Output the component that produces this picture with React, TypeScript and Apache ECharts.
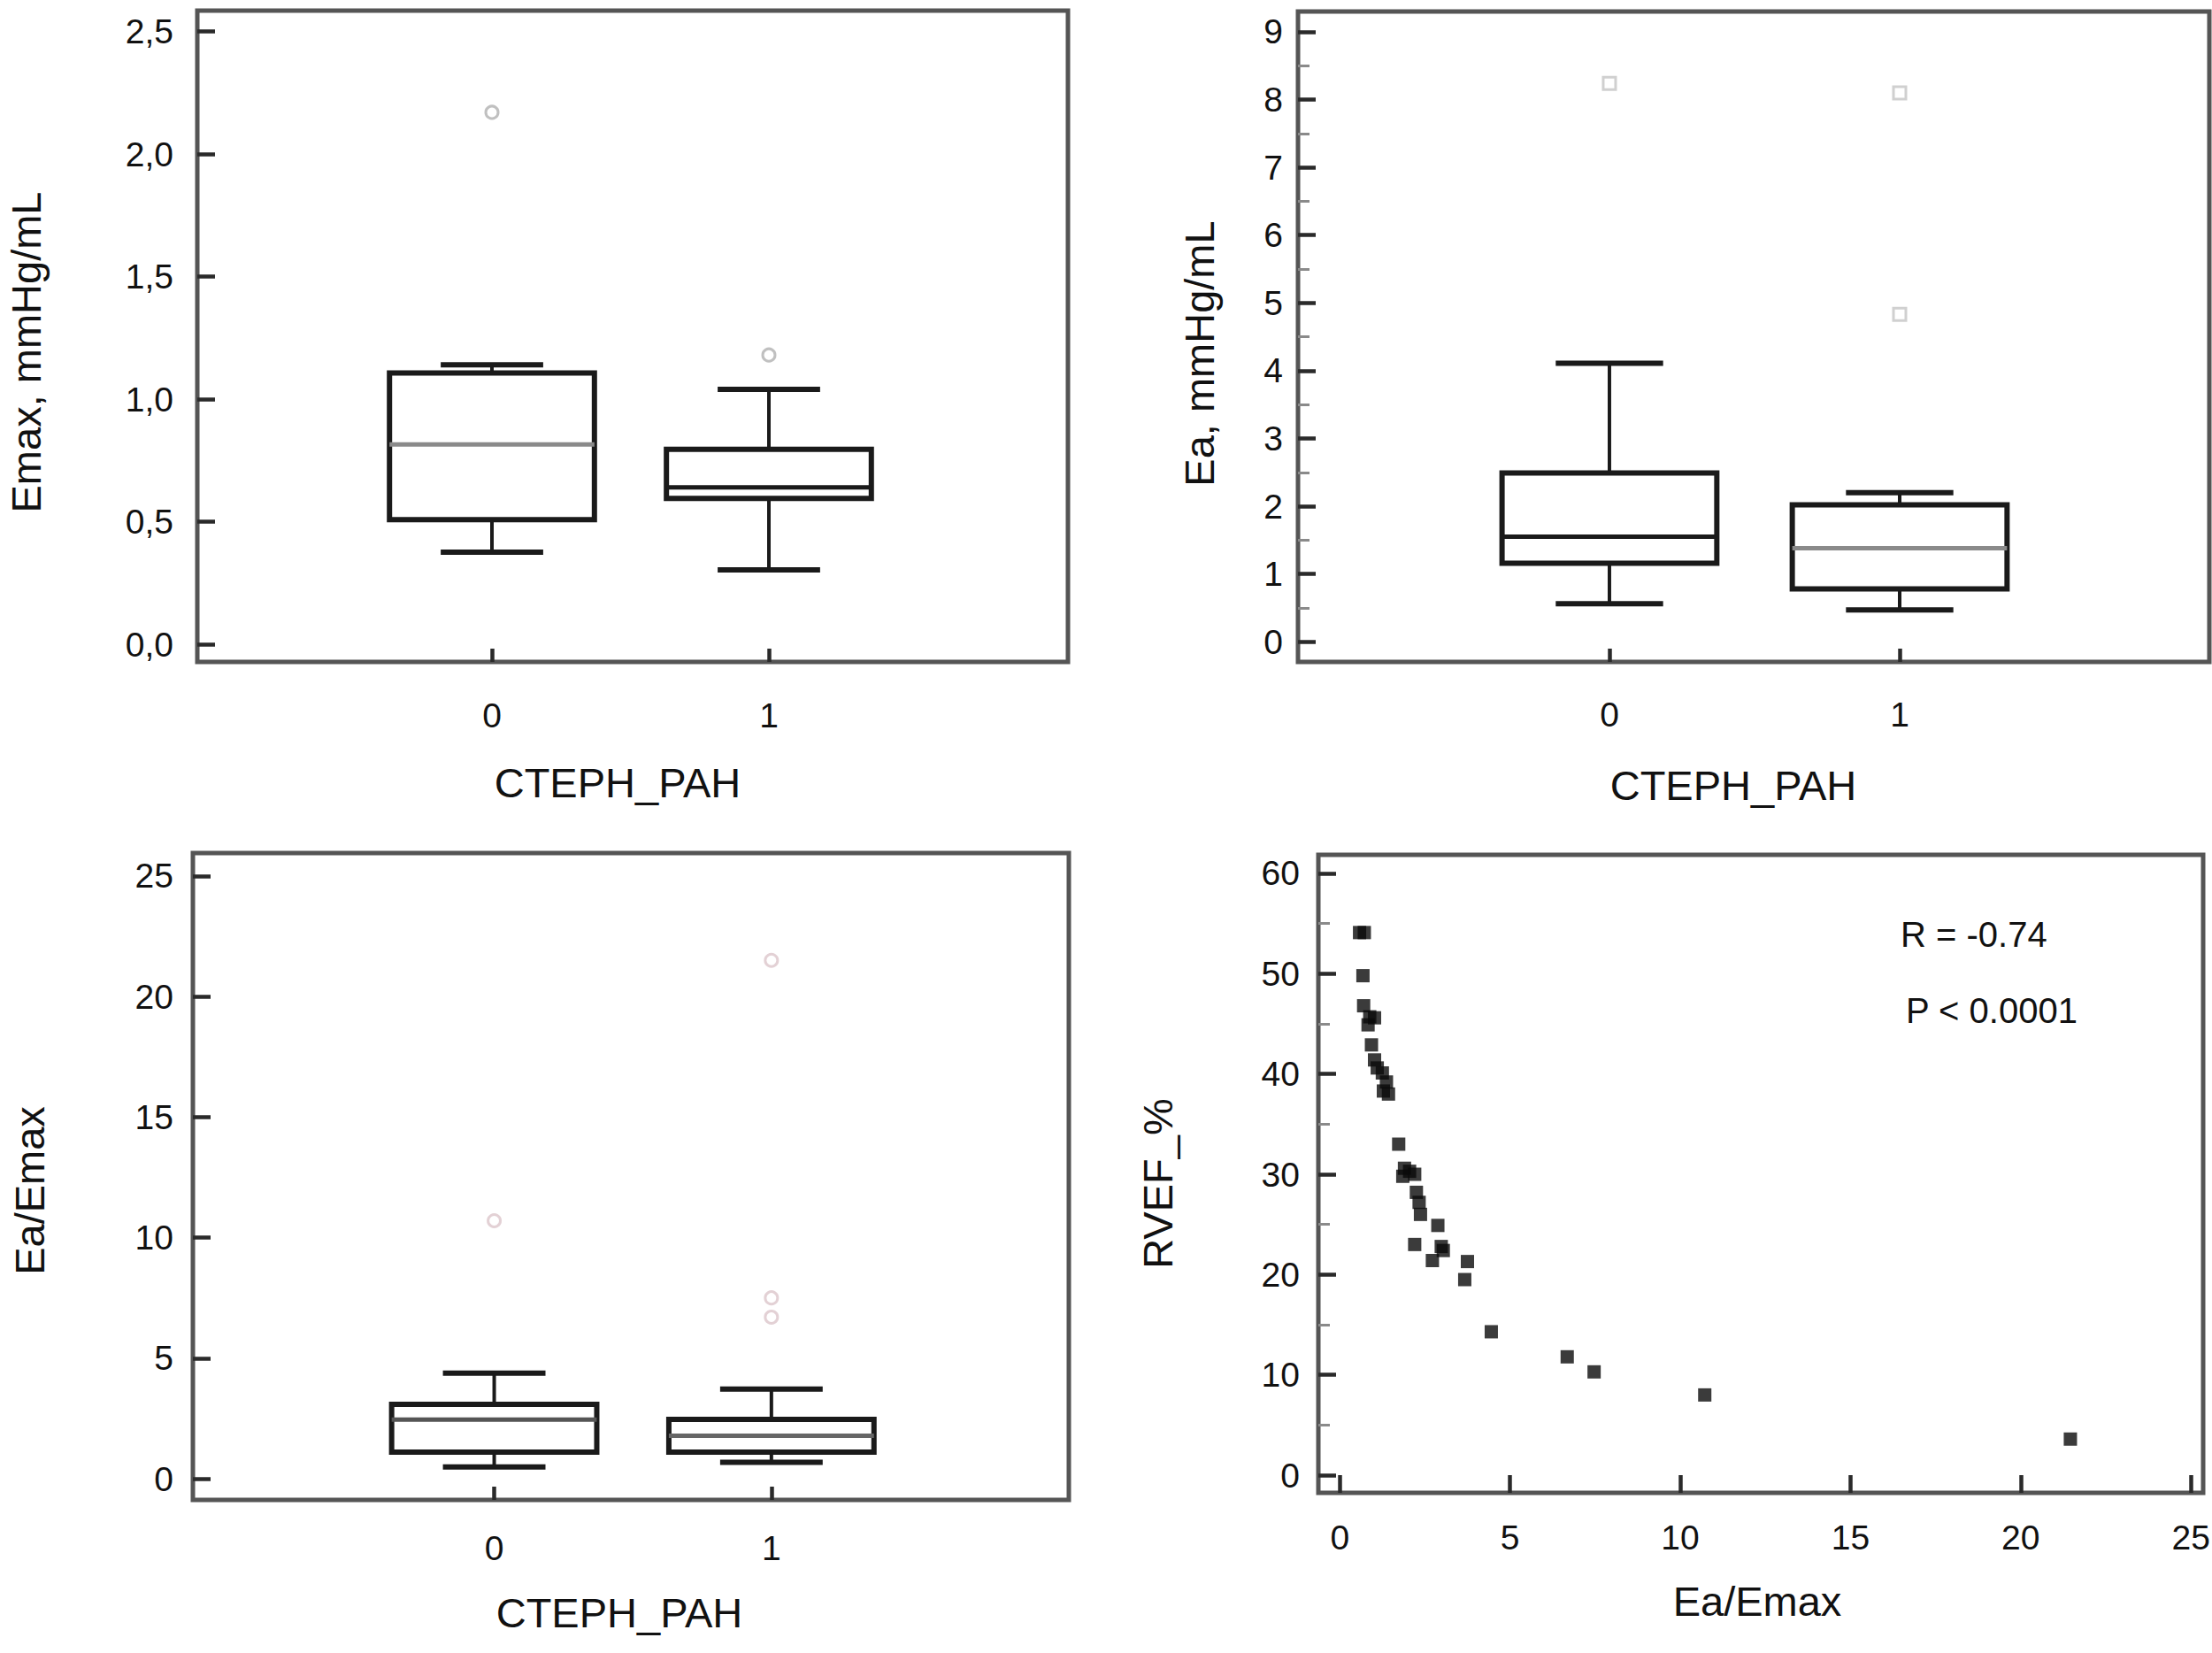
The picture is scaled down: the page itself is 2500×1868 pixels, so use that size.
import React, { useEffect, useRef } from "react";
import * as echarts from "echarts";

// ---------- data ----------
const groups = [0, 1];
const groupName = "CTEPH_PAH";

// [lowWhisker, q1, median, q3, highWhisker]
const emaxBoxes = [
  [0.376, 0.508, 0.815, 1.107, 1.14],
  [0.303, 0.595, 0.64, 0.795, 1.04],
];
const emaxOutliers = [
  [0, 2.17],
  [1, 1.18],
];
const emaxTicks = [0, 0.5, 1.0, 1.5, 2.0, 2.5];

const eaBoxes = [
  [0.56, 1.16, 1.55, 2.49, 4.11],
  [0.47, 0.78, 1.38, 2.02, 2.2],
];
const eaOutliers = [
  [0, 8.24],
  [1, 8.1],
  [1, 4.83],
];
const eaTicks = [0, 1, 2, 3, 4, 5, 6, 7, 8, 9];
const eaMinorTicks = [0.5, 1.5, 2.5, 3.5, 4.5, 5.5, 6.5, 7.5, 8.5];

const ratioBoxes = [
  [0.49, 1.1, 2.45, 3.08, 4.38],
  [0.68, 1.1, 1.78, 2.46, 3.72],
];
const ratioOutliers = [
  [0, 10.7],
  [1, 21.5],
  [1, 7.5],
  [1, 6.7],
];
const ratioTicks = [0, 5, 10, 15, 20, 25];

// scatter: [Ea/Emax, RVEF_%]
const rvefPoints = [
  [0.58, 54.1], [0.72, 54.1], [0.68, 49.8], [0.7, 46.8], [0.88, 45.7],
  [1.02, 45.6], [0.83, 44.9], [0.93, 42.9], [1.02, 41.4], [1.1, 40.6],
  [1.25, 40.1], [1.37, 39.2], [1.28, 38.3], [1.43, 38.0], [1.73, 33.0],
  [1.9, 30.6], [2.05, 30.3], [2.2, 30.0], [1.85, 29.8], [2.25, 28.2],
  [2.33, 27.2], [2.37, 26.0], [2.88, 24.9], [2.2, 23.0], [2.98, 22.8],
  [3.04, 22.4], [2.72, 21.4], [3.75, 21.3], [3.67, 19.5], [4.45, 14.3],
  [6.68, 11.8], [7.47, 10.3], [10.72, 8.0], [21.46, 3.6],
];
const scatterXTicks = [0, 5, 10, 15, 20, 25];
const scatterYTicks = [0, 10, 20, 30, 40, 50, 60];
const scatterYMinor = [5, 15, 25, 35, 45, 55];
const statR = "R = -0.74";
const statP = "P < 0.0001";

// ---------- styling ----------
const FONT = "'Liberation Sans', Arial, Helvetica, sans-serif";
const TEXT = "#111";
const FRAME = "#555";
const INK = "#1a1a1a";
const BOX_HALF = 0.37;
const CAP_HALF = 0.185;

function boxData(boxes: number[][]) {
  return groups.map((g, i) => [g, ...boxes[i]]);
}

function boxSeries(idx: number, boxes: number[][], medianColors: string[]) {
  return {
    type: "custom",
    xAxisIndex: idx,
    yAxisIndex: idx,
    data: boxData(boxes),
    encode: { x: 0, y: [1, 2, 3, 4, 5] },
    renderItem: (params: any, api: any) => {
      const x = api.value(0);
      const lo = api.value(1);
      const q1 = api.value(2);
      const med = api.value(3);
      const q3 = api.value(4);
      const hi = api.value(5);
      const c = (vx: number, vy: number) => api.coord([vx, vy]);
      const seg = (a: number[], b: number[], w: number, color = INK) => ({
        type: "line",
        shape: { x1: a[0], y1: a[1], x2: b[0], y2: b[1] },
        style: { stroke: color, lineWidth: w },
      });
      const tl = c(x - BOX_HALF, q3);
      const br = c(x + BOX_HALF, q1);
      return {
        type: "group",
        children: [
          seg(c(x, q3), c(x, hi), 4),
          seg(c(x, q1), c(x, lo), 4),
          seg(c(x - CAP_HALF, hi), c(x + CAP_HALF, hi), 6),
          seg(c(x - CAP_HALF, lo), c(x + CAP_HALF, lo), 6),
          {
            type: "rect",
            shape: { x: tl[0], y: tl[1], width: br[0] - tl[0], height: br[1] - tl[1] },
            style: { fill: "#fff", stroke: INK, lineWidth: 6 },
          },
          seg(c(x - BOX_HALF, med), c(x + BOX_HALF, med), 5, medianColors[params.dataIndex]),
        ],
      };
    },
    z: 3,
  };
}

function outlierSeries(idx: number, pts: number[][], color: string, symbol = "circle") {
  return {
    type: "scatter",
    xAxisIndex: idx,
    yAxisIndex: idx,
    data: pts,
    symbol,
    symbolSize: 14,
    itemStyle: { color: "#fff", borderColor: color, borderWidth: 3 },
    z: 4,
  };
}

type AxSpec = {
  grid: number;
  min: number;
  max: number;
  ticks: number[];
  tickLen: number;
  margin: number;
  name: string;
  nameGap: number;
  shift: number;
  fmt?: (v: number) => string;
};

function axisOf(s: AxSpec, position: string) {
  return {
    type: "value",
    gridIndex: s.grid,
    position,
    min: s.min,
    max: s.max,
    axisLine: { show: false, onZero: false },
    splitLine: { show: false },
    axisTick: {
      show: true,
      inside: true,
      length: s.tickLen,
      customValues: s.ticks,
      lineStyle: { color: "#2a2a2a", width: 4.5 },
    },
    axisLabel: {
      show: true,
      customValues: s.ticks,
      margin: s.margin,
      fontSize: 39,
      color: TEXT,
      fontFamily: FONT,
      formatter: s.fmt || ((v: number) => String(v)),
    },
    name: s.name,
    nameLocation: "middle",
    nameGap: s.nameGap,
    nameTextStyle: {
      fontSize: 47,
      color: TEXT,
      fontFamily: FONT,
      padding: [0, s.shift * 2, 0, 0],
    },
  };
}

function minorYAxis(grid: number, min: number, max: number, ticks: number[]) {
  return {
    type: "value",
    gridIndex: grid,
    position: "left",
    min,
    max,
    axisLine: { show: false, onZero: false },
    splitLine: { show: false },
    axisLabel: { show: false },
    axisTick: {
      show: true,
      inside: true,
      length: 13,
      customValues: ticks,
      lineStyle: { color: "#8a8a8a", width: 3 },
    },
  };
}

const commaFmt = (v: number) => v.toFixed(1).replace(".", ",");

export default function App() {
  const ref = useRef<HTMLDivElement>(null);

  useEffect(() => {
    if (!ref.current) return;
    const chart = echarts.init(ref.current, undefined, { renderer: "svg" });

    const gridStyle = {
      show: true,
      borderColor: FRAME,
      borderWidth: 5,
      backgroundColor: "transparent",
      containLabel: false,
      outerBoundsMode: "none",
    };

    const option: any = {
      animation: false,
      backgroundColor: "#fff",
      grid: [
        { ...gridStyle, left: 223, top: 12, width: 984, height: 736 },
        { ...gridStyle, left: 1467, top: 13, width: 1030, height: 735 },
        { ...gridStyle, left: 218, top: 964, width: 990, height: 731 },
        { ...gridStyle, left: 1490, top: 966, width: 1000, height: 721 },
      ],
      xAxis: [
        axisOf({ grid: 0, min: -1.064, max: 2.08, ticks: groups, tickLen: 15, margin: 41, name: groupName, nameGap: 113, shift: 17 }, "bottom"),
        axisOf({ grid: 1, min: -1.073, max: 2.067, ticks: groups, tickLen: 15, margin: 40, name: groupName, nameGap: 116, shift: 23 }, "bottom"),
        axisOf({ grid: 2, min: -1.087, max: 2.073, ticks: groups, tickLen: 15, margin: 35, name: groupName, nameGap: 104, shift: 13 }, "bottom"),
        axisOf({ grid: 3, min: -0.63, max: 25.36, ticks: scatterXTicks, tickLen: 20, margin: 31, name: "Ea/Emax", nameGap: 99, shift: 4 }, "bottom"),
      ],
      yAxis: [
        axisOf({ grid: 0, min: -0.072, max: 2.585, ticks: emaxTicks, tickLen: 20, margin: 27, name: "Emax, mmHg/mL", nameGap: 170, shift: 18, fmt: commaFmt }, "left"),
        axisOf({ grid: 1, min: -0.297, max: 9.3, ticks: eaTicks, tickLen: 20, margin: 17, name: "Ea, mmHg/mL", nameGap: 88, shift: 19 }, "left"),
        axisOf({ grid: 2, min: -0.88, max: 25.95, ticks: ratioTicks, tickLen: 20, margin: 22, name: "Ea/Emax", nameGap: 161, shift: 16 }, "left"),
        axisOf({ grid: 3, min: -1.76, max: 61.85, ticks: scatterYTicks, tickLen: 20, margin: 21, name: "RVEF_%", nameGap: 158, shift: 11 }, "left"),
        minorYAxis(1, -0.297, 9.3, eaMinorTicks),
        minorYAxis(3, -1.76, 61.85, scatterYMinor),
      ],
      series: [
        boxSeries(0, emaxBoxes, ["#8a8a8a", "#1a1a1a"]),
        outlierSeries(0, emaxOutliers, "#b0b0b0"),
        boxSeries(1, eaBoxes, ["#1a1a1a", "#8a8a8a"]),
        outlierSeries(1, eaOutliers, "#c4c4c4", "rect"),
        boxSeries(2, ratioBoxes, ["#555", "#666"]),
        outlierSeries(2, ratioOutliers, "#dcc6ca"),
        {
          type: "scatter",
          xAxisIndex: 3,
          yAxisIndex: 3,
          data: rvefPoints,
          symbol: "rect",
          symbolSize: 15,
          itemStyle: { color: "#0a0a0a" },
          z: 4,
        },
      ],
      graphic: [
        {
          type: "text",
          left: 2148,
          top: 1036,
          style: { text: statR, fontSize: 40, fill: TEXT, fontFamily: FONT },
        },
        {
          type: "text",
          left: 2154,
          top: 1122,
          style: { text: statP, fontSize: 40, fill: TEXT, fontFamily: FONT },
        },
      ],
    };

    chart.setOption(option);
    return () => chart.dispose();
  }, []);

  return (
    <div
      ref={ref}
      style={{ position: "absolute", left: 0, top: 0, width: 2500, height: 1868, background: "#fff" }}
    />
  );
}
